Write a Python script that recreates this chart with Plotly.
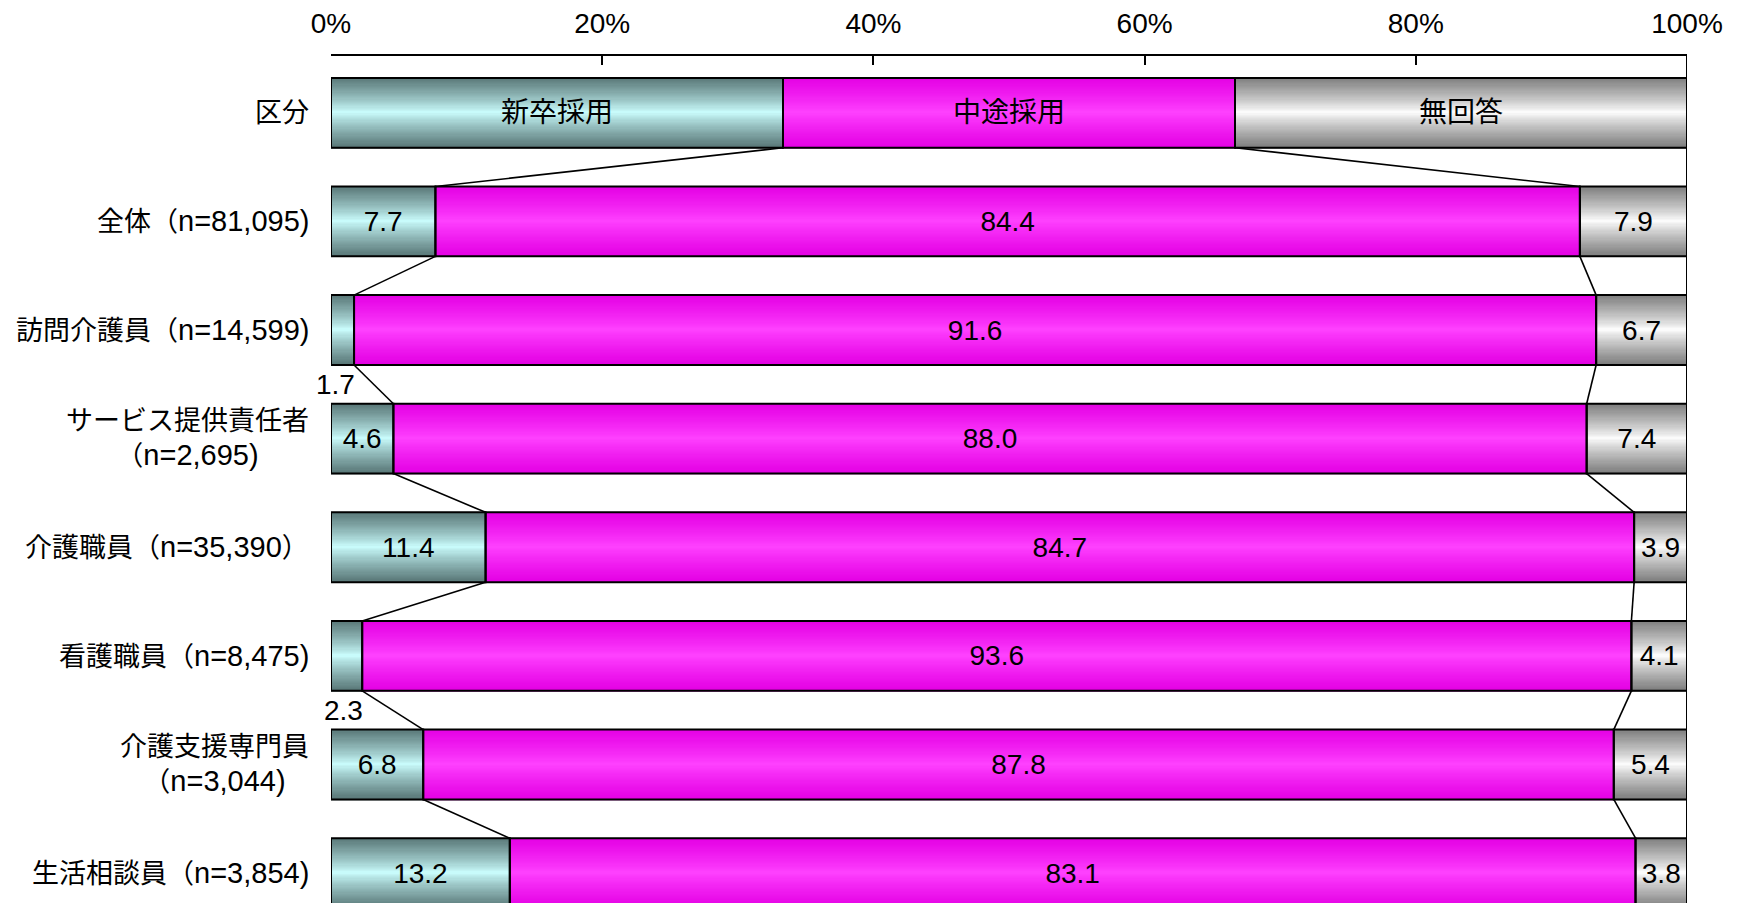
import plotly.graph_objects as go

# data
header_label = "区分"
series_names = ["新卒採用", "中途採用", "無回答"]
categories = [
    "全体（n=81,095)",
    "訪問介護員（n=14,599)",
    "サービス提供責任者<br>（n=2,695)",
    "介護職員（n=35,390）",
    "看護職員（n=8,475)",
    "介護支援専門員<br>（n=3,044)",
    "生活相談員（n=3,854)",
]
shinsotsu = [7.7, 1.7, 4.6, 11.4, 2.3, 6.8, 13.2]
chuto = [84.4, 91.6, 88.0, 84.7, 93.6, 87.8, 83.1]
mukaito = [7.9, 6.7, 7.4, 3.9, 4.1, 5.4, 3.8]
tick_vals = [0, 20, 40, 60, 80, 100]

FONT = "Liberation Sans, Arial, Noto Sans CJK JP"
FS = 28          # latin text
FS_CJK = 27      # japanese text
BAR_W = 0.643
N_SLICES = 60

# gradient colours (edge, centre) per series
grads = [
    ((88, 118, 118), (204, 255, 255)),
    ((228, 0, 228), (255, 66, 255)),
    ((125, 125, 125), (255, 255, 255)),
]

# header row = equal thirds, then the data rows as 100% stacked
raw = [shinsotsu, chuto, mukaito]
rows = [[100 / 3] * 3]
for i in range(len(categories)):
    vals = [s[i] for s in raw]
    tot = sum(vals)
    rows.append([v / tot * 100 for v in vals])
pos = list(range(len(rows)))

lengths = [[r[j] for r in rows] for j in range(3)]
bases = [[sum(r[:j]) for r in rows] for j in range(3)]


def mix(a, b, t):
    return "rgb(%d,%d,%d)" % tuple(round(a[c] + (b[c] - a[c]) * t) for c in range(3))


def mixed_font(s):
    # japanese at FS_CJK, latin runs a bit larger like the original
    out = []
    for line in s.split("<br>"):
        buf, cur_ascii, parts = "", None, []
        for ch in line:
            a = ord(ch) < 128
            if cur_ascii is not None and a != cur_ascii:
                parts.append((cur_ascii, buf))
                buf = ""
            buf += ch
            cur_ascii = a
        if buf:
            parts.append((cur_ascii, buf))
        out.append("".join(
            '<span style="font-size:%dpx">%s</span>' % (FS + 1, t) if a else t
            for a, t in parts))
    return "<br>".join(out)


fig = go.Figure()

sw = BAR_W / N_SLICES
for j in range(3):
    edge, centre = grads[j]
    for k in range(N_SLICES):
        f = (k + 0.5) / N_SLICES
        d = abs(f - 0.5) * 2
        fig.add_trace(go.Bar(
            orientation="h", y=pos, x=lengths[j], base=bases[j],
            width=sw * 1.6, offset=-BAR_W / 2 + k * sw,
            marker=dict(color=mix(centre, edge, d ** 0.85), line=dict(width=0)),
            hoverinfo="skip", showlegend=False,
        ))

# outlines + labels
small = []
for j in range(3):
    texts = [series_names[j]]
    for i, v in enumerate(raw[j]):
        if v < 3:
            texts.append("")
            small.append((bases[j][i + 1] + lengths[j][i + 1], i + 1, v))
        else:
            texts.append("%.1f" % v)
    fig.add_trace(go.Bar(
        orientation="h", y=pos, x=lengths[j], base=bases[j],
        width=BAR_W, name=series_names[j],
        marker=dict(color="rgba(0,0,0,0)", line=dict(color="black", width=2)),
        text=texts, textposition="inside", insidetextanchor="middle",
        textangle=0, constraintext="none",
        textfont=dict(family=FONT, size=FS, color="black"),
        hoverinfo="skip", showlegend=False,
    ))

# series lines between neighbouring bars
lx, ly = [], []
for j in (1, 2):
    for i in range(len(rows) - 1):
        lx += [bases[j][i], bases[j][i + 1], None]
        ly += [i + BAR_W / 2, i + 1 - BAR_W / 2, None]
fig.add_trace(go.Scatter(x=lx, y=ly, mode="lines",
                         line=dict(color="black", width=1.6),
                         hoverinfo="skip", showlegend=False))

ann = []
for x, y, v in small:
    ann.append(dict(x=x, y=y + 0.5, xref="x", yref="y", text="%.1f" % v,
                    xanchor="right", xshift=3, showarrow=False,
                    font=dict(family=FONT, size=FS, color="black")))
for i, lab in enumerate([header_label] + categories):
    ann.append(dict(x=0, y=i, xref="paper", yref="y", text=mixed_font(lab),
                    xanchor="right", xshift=-20, align="center", showarrow=False,
                    font=dict(family=FONT, size=FS_CJK, color="black")))

fig.add_shape(type="line", xref="x", yref="paper", x0=100, x1=100, y0=0, y1=1,
              line=dict(color="black", width=2))

fig.update_layout(
    width=1734, height=895,
    margin=dict(l=323, r=55, t=46, b=0),
    barmode="overlay",
    paper_bgcolor="white", plot_bgcolor="white",
    font=dict(family=FONT, size=FS, color="black"),
    annotations=ann,
    xaxis=dict(range=[0, 100], side="top", tickvals=tick_vals,
               ticktext=["%d%%" % v for v in tick_vals],
               showgrid=False, zeroline=False,
               showline=True, linecolor="black", linewidth=2,
               ticks="inside", ticklen=9, tickwidth=2, tickcolor="black",
               ticklabelstandoff=10,
               tickfont=dict(family=FONT, size=FS, color="black")),
    yaxis=dict(range=[7.275, -0.523], showticklabels=False, showgrid=False,
               zeroline=False, showline=False, ticks=""),
)

fig.write_html("out.html")
